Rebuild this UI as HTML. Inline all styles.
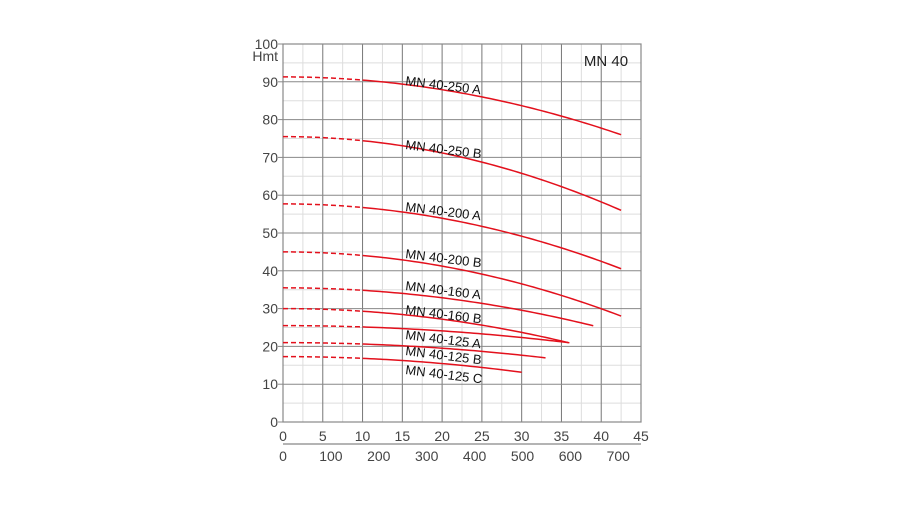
<!DOCTYPE html>
<html><head><meta charset="utf-8"><style>
body{margin:0;background:#fff;width:900px;height:500px;overflow:hidden}
text{font-family:"Liberation Sans",Arial,sans-serif;fill:#444}
</style></head><body>
<svg id="s" width="900" height="500" xmlns="http://www.w3.org/2000/svg"></svg>
<script>
const s=document.getElementById('s');
const X0=283,X1=641,Y0=422,Y1=44;
const X=q=>X0+q*(X1-X0)/45, Y=h=>Y0-h*(Y0-Y1)/100;
let o='';
// minor grid
for(let q=2.5;q<45;q+=5)o+=`<line x1="${X(q)}" x2="${X(q)}" y1="${Y1}" y2="${Y0}" stroke="#ddd" stroke-width="1"/>`;
for(let h=5;h<100;h+=10)o+=`<line x1="${X0}" x2="${X1}" y1="${Y(h)}" y2="${Y(h)}" stroke="#ddd" stroke-width="1"/>`;
for(let q=5;q<45;q+=5)o+=`<line x1="${X(q)}" x2="${X(q)}" y1="${Y1}" y2="${Y0}" stroke="#777" stroke-width="1"/>`;
for(let h=10;h<100;h+=10)o+=`<line x1="${X0}" x2="${X1}" y1="${Y(h)}" y2="${Y(h)}" stroke="#888" stroke-width="1"/>`;
o+=`<rect x="${X0}" y="${Y1}" width="${X1-X0}" height="${Y0-Y1}" fill="none" stroke="#888" stroke-width="1.2"/>`;
for(let h=0;h<=100;h+=10){o+=`<line x1="${X0-5}" x2="${X0}" y1="${Y(h)}" y2="${Y(h)}" stroke="#888"/>`;
 o+=`<text x="${X0-5}" y="${Y(h)+5}" font-size="14" text-anchor="end">${h}</text>`;}
o+=`<text x="${X0-5}" y="61" font-size="14" text-anchor="end">Hmt</text>`;
for(let q=0;q<=45;q+=5)o+=`<text x="${X(q)}" y="441" font-size="14" text-anchor="middle">${q}</text>`;
o+=`<line x1="${X0}" x2="${X1}" y1="444" y2="444" stroke="#888" stroke-width="1.2"/>`;
for(let v=0;v<=700;v+=100)o+=`<text x="${X0+v*0.479}" y="461" font-size="14" text-anchor="middle">${v}</text>`;
o+=`<text x="606" y="66" font-size="15" text-anchor="middle" style="fill:#222">MN 40</text>`;
const C=[["MN 40-250 A",91.3,.00847,42.5],["MN 40-250 B",75.5,.0108,42.5],["MN 40-200 A",57.7,.0095,42.5],["MN 40-200 B",45,.0094,42.5],["MN 40-160 A",35.5,.0066,39],["MN 40-160 B",30,.007,35.8],["MN 40-125 A",25.5,.0035,36],["MN 40-125 B",21,.0037,33],["MN 40-125 C",17.3,.0046,30]];
const pos={"MN 40-250 A":85,"MN 40-250 B":149,"MN 40-200 A":211,"MN 40-200 B":258,"MN 40-160 A":290,"MN 40-160 B":314,"MN 40-125 A":339,"MN 40-125 B":355,"MN 40-125 C":374};
for(const [n,h0,k,e] of C){
 let d='',sl='';
 for(let q=0;q<=10;q+=0.5)d+=`${X(q)},${Y(h0-k*q*q)} `;
 for(let q=10;q<=e+0.01;q+=0.5)sl+=`${X(q)},${Y(h0-k*q*q)} `;
 sl+=`${X(e)},${Y(h0-k*e*e)}`;
 o+=`<polyline points="${d}" fill="none" stroke="#e3101c" stroke-width="1.5" stroke-dasharray="5,3"/>`;
 o+=`<polyline points="${sl}" fill="none" stroke="#e3101c" stroke-width="1.5"/>`;
 o+=`<text x="405" y="${pos[n]}" font-size="13" style="fill:#111" transform="rotate(7 405 ${pos[n]})">${n}</text>`;
}
s.innerHTML=o;
</script>
</body></html>
